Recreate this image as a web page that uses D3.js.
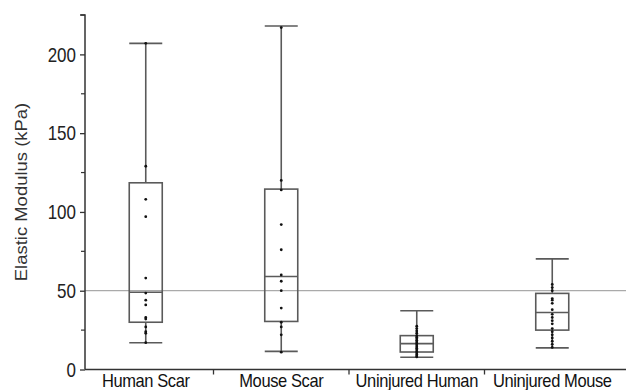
<!DOCTYPE html>
<html><head><meta charset="utf-8">
<script src="https://cdn.jsdelivr.net/npm/d3@7"></script>
<style>body{margin:0;background:#fff}svg{display:block}text{font-family:"Liberation Sans",Arial,sans-serif}</style>
</head><body><svg id="c" width="626" height="390"></svg>
<script>
const categories = ["Human Scar","Mouse Scar","Uninjured Human","Uninjured Mouse"];
// box stats: [whiskerLow, q1, median, q3, whiskerHigh]
const humanScarBox = [17, 30, 49, 118.5, 207];
const mouseScarBox = [11.5, 30.5, 59, 114.5, 218];
const uninjHumanBox = [7.8, 11.1, 16.4, 21.5, 37.3];
const uninjMouseBox = [13.7, 25, 36.2, 48.3, 70.2];
const humanScarPts = [207,129,108,97,58,48.5,44,41,33,32,27,24,23,17];
const mouseScarPts = [217,120,114,92,76,60,56,50,39,30,27,22,11];
const uninjHumanPts = [27.5,26,24.5,23,21.5,20.5,19.5,18.5,17.5,16.5,15.5,14.5,13.5,12.5,11.5,10.5,9.5,8.5,8];
const uninjMousePts = [54,52,50,45,44,42,38,35,33,31,29,26,24,22,20,18,16,14];
const yTicks = [0,50,100,150,200];
const yMinorTicks = [25,75,125,175,225];
const refValue = 50;
const yLabel = "Elastic Modulus (kPa)";

const boxes = [humanScarBox, mouseScarBox, uninjHumanBox, uninjMouseBox];
const points = [humanScarPts, mouseScarPts, uninjHumanPts, uninjMousePts];

const svg = d3.select("#c");
const W = 626;
const axisX = 85, axisY = 369.5;
const y = d3.scaleLinear().domain([0,225]).range([axisY, 15]);
const x = d3.scaleBand().domain(categories).range([78, 620]);
const boxW = 33;
const strokeC = "#5a5a5a";

// reference line
svg.append("line").attr("x1",axisX).attr("x2",W).attr("y1",y(refValue)).attr("y2",y(refValue))
  .attr("stroke","#aaa").attr("stroke-width",1.2);

// y axis
const ya = svg.append("g").attr("transform",`translate(${axisX},0)`)
  .call(d3.axisLeft(y).tickValues(yTicks).tickSize(5).tickPadding(4));
ya.select(".domain").attr("stroke","#333").attr("stroke-width",1.5).attr("d",`M-5,${y(225)}H0V${axisY}`);
ya.selectAll(".tick line").attr("stroke","#333").attr("stroke-width",1.3);
ya.selectAll(".tick text").attr("font-size",17).attr("fill","#222")
  .attr("font-family","Liberation Sans, Arial, sans-serif")
  .attr("transform","scale(1,1.2)").attr("dy","0.33em");
ya.selectAll(".minor").data(yMinorTicks).enter().append("line")
  .attr("x1",-4).attr("x2",0).attr("y1",d=>y(d)).attr("y2",d=>y(d))
  .attr("stroke","#333").attr("stroke-width",1.2);

// x axis
svg.append("line").attr("x1",axisX).attr("x2",W).attr("y1",axisY).attr("y2",axisY)
  .attr("stroke","#333").attr("stroke-width",1.5);
svg.selectAll(".sep").data(categories.slice(1)).enter().append("line")
  .attr("x1",d=>x(d)).attr("x2",d=>x(d)).attr("y1",axisY).attr("y2",axisY+5)
  .attr("stroke","#333").attr("stroke-width",1.3);
svg.selectAll(".xl").data(categories).enter().append("text")
  .attr("transform",d=>`translate(${x(d)+x.bandwidth()/2},${axisY+17}) scale(1,1.15)`)
  .attr("text-anchor","middle").attr("font-size",16.5).attr("letter-spacing","-0.4")
  .attr("fill","#111").text(d=>d);

// y label
svg.append("text").attr("transform",`translate(21,192) rotate(-90) scale(1.12,1)`)
  .attr("text-anchor","middle").attr("dy","0.35em").attr("font-size",16.5).attr("fill","#333").text(yLabel);

// boxes
const g = svg.selectAll(".box").data(categories).enter().append("g")
  .attr("transform",d=>`translate(${x(d)+x.bandwidth()/2},0)`);
g.each(function(d,i){
  const s = boxes[i], gg = d3.select(this);
  gg.append("line").attr("x1",0).attr("x2",0).attr("y1",y(s[0])).attr("y2",y(s[1])).attr("stroke",strokeC).attr("stroke-width",1.6);
  gg.append("line").attr("x1",0).attr("x2",0).attr("y1",y(s[3])).attr("y2",y(s[4])).attr("stroke",strokeC).attr("stroke-width",1.6);
  gg.append("line").attr("x1",-boxW/2).attr("x2",boxW/2).attr("y1",y(s[0])).attr("y2",y(s[0])).attr("stroke",strokeC).attr("stroke-width",1.6);
  gg.append("line").attr("x1",-boxW/2).attr("x2",boxW/2).attr("y1",y(s[4])).attr("y2",y(s[4])).attr("stroke",strokeC).attr("stroke-width",1.6);
  gg.append("rect").attr("x",-boxW/2).attr("width",boxW).attr("y",y(s[3])).attr("height",y(s[1])-y(s[3]))
    .attr("fill","none").attr("stroke",strokeC).attr("stroke-width",1.6);
  gg.append("line").attr("x1",-boxW/2).attr("x2",boxW/2).attr("y1",y(s[2])).attr("y2",y(s[2])).attr("stroke",strokeC).attr("stroke-width",1.6);
  gg.selectAll("circle").data(points[i]).enter().append("circle")
    .attr("cx",0).attr("cy",v=>y(v)).attr("r",1.4).attr("fill","#111");
});
</script></body></html>
